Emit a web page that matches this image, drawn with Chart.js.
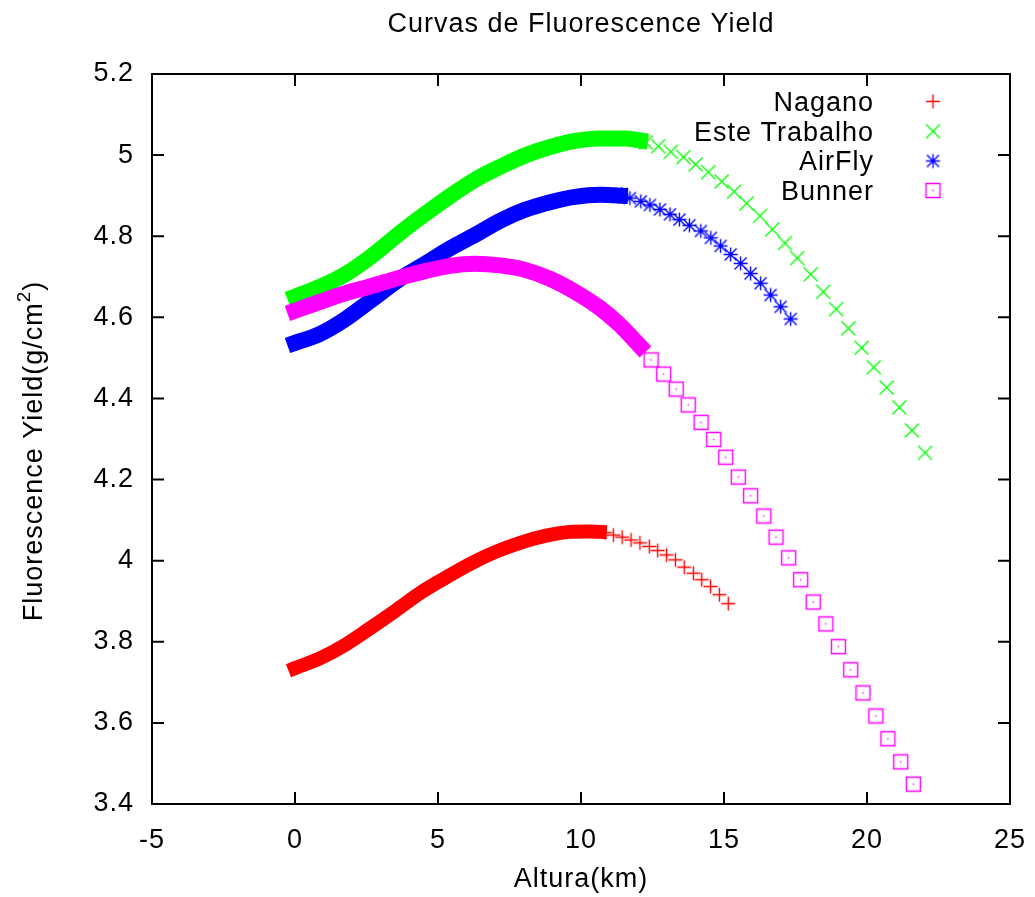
<!DOCTYPE html>
<html>
<head>
<meta charset="utf-8">
<script src="https://cdn.jsdelivr.net/npm/chart.js@4"></script>
<style>
html,body{margin:0;padding:0;background:#fff;}
#wrap{width:1035px;height:897px;}
</style>
</head>
<body>
<div id="wrap"><canvas id="c" width="1035" height="897"></canvas></div>
<script>
// ---- tick labels ----
const xTicks = [-5, 0, 5, 10, 15, 20, 25];
const yTicks = [3.4, 3.6, 3.8, 4.0, 4.2, 4.4, 4.6, 4.8, 5.0, 5.2];

// ---- series names ----
const seriesNames = ['Nagano', 'Este Trabalho', 'AirFly', 'Bunner'];

// ---- Nagano ----
const naganoDenseX = [0, 0.87, 1.75, 2.62, 3.50, 4.37, 5.24, 6.12, 6.99, 7.87, 8.74, 9.62, 10.31, 10.66];
const naganoDenseY = [3.735, 3.759, 3.792, 3.833, 3.876, 3.920, 3.957, 3.992, 4.021, 4.044, 4.061, 4.071, 4.072, 4.071];
const naganoX = [10.84, 11.13, 11.44, 11.75, 12.06, 12.39, 12.68, 12.99, 13.30, 13.61, 13.93, 14.22, 14.53, 14.84, 15.15];
const naganoY = [4.069, 4.063, 4.058, 4.051, 4.044, 4.035, 4.025, 4.014, 4.002, 3.984, 3.969, 3.953, 3.936, 3.916, 3.894];

// ---- Este Trabalho ----
const esteDenseX = [0, 0.87, 1.75, 2.62, 3.67, 4.55, 5.42, 6.29, 7.17, 8.04, 8.92, 9.79, 10.66, 11.54, 12.06];
const esteDenseY = [4.651, 4.675, 4.706, 4.748, 4.808, 4.855, 4.899, 4.939, 4.971, 4.999, 5.020, 5.035, 5.041, 5.041, 5.036];
const esteX = [12.27, 12.70, 13.14, 13.58, 14.01, 14.45, 14.92, 15.35, 15.79, 16.26, 16.69, 17.13, 17.56, 18.03, 18.47, 18.92, 19.35, 19.81, 20.24, 20.69, 21.13, 21.57, 22.03];
const esteY = [5.031, 5.022, 5.008, 4.995, 4.977, 4.958, 4.935, 4.910, 4.881, 4.850, 4.817, 4.783, 4.746, 4.706, 4.663, 4.620, 4.573, 4.525, 4.477, 4.427, 4.378, 4.321, 4.266];

// ---- AirFly ----
const airflyDenseX = [0, 0.87, 1.75, 2.62, 3.67, 4.55, 5.42, 6.29, 7.17, 8.04, 8.92, 9.79, 10.66, 11.36];
const airflyDenseY = [4.537, 4.559, 4.595, 4.640, 4.695, 4.732, 4.770, 4.803, 4.838, 4.865, 4.884, 4.897, 4.902, 4.900];
const airflyX = [11.42, 11.71, 12.09, 12.41, 12.76, 13.11, 13.44, 13.79, 14.19, 14.54, 14.88, 15.23, 15.58, 15.93, 16.28, 16.63, 16.98, 17.33];
const airflyY = [4.904, 4.894, 4.886, 4.877, 4.866, 4.854, 4.841, 4.827, 4.813, 4.796, 4.776, 4.755, 4.733, 4.708, 4.684, 4.655, 4.626, 4.596];

// ---- Bunner ----
const bunnerDenseX = [0, 0.87, 1.75, 2.62, 3.67, 4.55, 5.42, 6.29, 7.17, 8.04, 8.92, 9.79, 10.66, 11.36, 12.06];
const bunnerDenseY = [4.616, 4.638, 4.659, 4.676, 4.698, 4.714, 4.727, 4.732, 4.728, 4.717, 4.695, 4.663, 4.623, 4.581, 4.529];
const bunnerX = [12.45, 12.89, 13.33, 13.75, 14.20, 14.64, 15.06, 15.50, 15.93, 16.39, 16.82, 17.26, 17.68, 18.12, 18.56, 19.00, 19.43, 19.86, 20.31, 20.73, 21.18, 21.62];
const bunnerY = [4.495, 4.460, 4.423, 4.384, 4.341, 4.299, 4.255, 4.206, 4.160, 4.110, 4.058, 4.007, 3.953, 3.898, 3.844, 3.788, 3.731, 3.674, 3.617, 3.561, 3.504, 3.449];

// ---- styles ----
const COLORS = ['#ff0000', '#00ff00', '#0000ff', '#ff00ff'];
const FONT = '"Liberation Sans", Arial, Helvetica, sans-serif';

function makeMarker(kind, color) {
  const s = 19, m = 9.5, h = 7;
  const c = document.createElement('canvas');
  c.width = s; c.height = s;
  const g = c.getContext('2d');
  g.strokeStyle = color; g.fillStyle = color; g.lineWidth = 1.4;
  g.beginPath();
  if (kind === 'plus' || kind === 'star') {
    g.moveTo(m - h, m); g.lineTo(m + h, m);
    g.moveTo(m, m - h); g.lineTo(m, m + h);
  }
  if (kind === 'x' || kind === 'star') {
    const d = kind === 'star' ? 6 : h;
    g.moveTo(m - d, m - d); g.lineTo(m + d, m + d);
    g.moveTo(m - d, m + d); g.lineTo(m + d, m - d);
  }
  if (kind === 'box') {
    g.rect(m - 7, m - 7, 14, 14);
  }
  g.stroke();
  if (kind === 'box') g.fillRect(m - 0.7, m - 0.7, 1.4, 1.4);
  return c;
}
const markers = [
  makeMarker('plus', COLORS[0]),
  makeMarker('x', COLORS[1]),
  makeMarker('star', COLORS[2]),
  makeMarker('box', COLORS[3])
];

function pts(xs, ys) { return xs.map((x, i) => ({ x: x, y: ys[i] })); }

const denseSets = [
  [naganoDenseX, naganoDenseY, 14],
  [esteDenseX, esteDenseY, 16],
  [airflyDenseX, airflyDenseY, 16],
  [bunnerDenseX, bunnerDenseY, 16]
];
const sparseSets = [
  [naganoX, naganoY],
  [esteX, esteY],
  [airflyX, airflyY],
  [bunnerX, bunnerY]
];

const datasets = [];
for (let i = 0; i < 4; i++) {
  datasets.push({
    label: seriesNames[i] + ' (denso)',
    data: pts(denseSets[i][0], denseSets[i][1]),
    showLine: true,
    borderColor: COLORS[i],
    backgroundColor: COLORS[i],
    borderWidth: denseSets[i][2],
    borderCapStyle: 'square',
    borderJoinStyle: 'round',
    cubicInterpolationMode: 'monotone',
    pointRadius: 0,
    fill: false,
    order: 8 - 2 * i
  });
  datasets.push({
    label: seriesNames[i],
    data: pts(sparseSets[i][0], sparseSets[i][1]),
    showLine: false,
    pointStyle: markers[i],
    pointRadius: 6,
    borderColor: COLORS[i],
    backgroundColor: COLORS[i],
    order: 7 - 2 * i
  });
}

const frame = {
  id: 'frame',
  beforeDraw(chart) {
    const ctx = chart.ctx;
    ctx.save();
    ctx.fillStyle = '#fff';
    ctx.fillRect(0, 0, chart.width, chart.height);
    ctx.restore();
    ctx.letterSpacing = '1px';
  },
  beforeDatasetsDraw(chart) {
    const ctx = chart.ctx, a = chart.chartArea;
    const xs = chart.scales.x, ys = chart.scales.y;
    const L = 12;
    ctx.save();
    ctx.strokeStyle = '#000';
    ctx.lineWidth = 2;
    ctx.beginPath();
    xTicks.forEach(v => {
      const p = xs.getPixelForValue(v);
      ctx.moveTo(p, a.bottom); ctx.lineTo(p, a.bottom - L);
      ctx.moveTo(p, a.top); ctx.lineTo(p, a.top + L);
    });
    yTicks.forEach(v => {
      const p = ys.getPixelForValue(v);
      ctx.moveTo(a.left, p); ctx.lineTo(a.left + L, p);
      ctx.moveTo(a.right, p); ctx.lineTo(a.right - L, p);
    });
    ctx.stroke();
    ctx.strokeRect(a.left, a.top, a.right - a.left, a.bottom - a.top);
    ctx.restore();
  },
  afterDraw(chart) {
    const ctx = chart.ctx, a = chart.chartArea;
    const cx = (a.left + a.right) / 2;
    ctx.save();
    ctx.letterSpacing = '1px';
    ctx.fillStyle = '#000';
    ctx.font = '27px ' + FONT;
    ctx.textBaseline = 'alphabetic';
    ctx.textAlign = 'center';
    ctx.fillText('Curvas de Fluorescence Yield', cx, 32);
    ctx.fillText('Altura(km)', cx, 887);

    // y axis title with superscript
    const main = 'Fluorescence Yield(g/cm';
    const sup = '2';
    const close = ')';
    ctx.font = '27px ' + FONT;
    const w1 = ctx.measureText(main).width;
    const w3 = ctx.measureText(close).width;
    ctx.font = '19px ' + FONT;
    const w2 = ctx.measureText(sup).width;
    const total = w1 + w2 + w3;
    ctx.translate(42, 451);
    ctx.rotate(-Math.PI / 2);
    ctx.textAlign = 'left';
    ctx.font = '27px ' + FONT;
    ctx.fillText(main, -total / 2, 0);
    ctx.font = '19px ' + FONT;
    ctx.fillText(sup, -total / 2 + w1, -12);
    ctx.font = '27px ' + FONT;
    ctx.fillText(close, -total / 2 + w1 + w2, 0);
    ctx.restore();

    // legend
    ctx.save();
    ctx.letterSpacing = '1px';
    ctx.fillStyle = '#000';
    ctx.font = '27px ' + FONT;
    ctx.textAlign = 'right';
    ctx.textBaseline = 'alphabetic';
    const base = [110.7, 140.5, 170.3, 199.8];
    for (let i = 0; i < 4; i++) {
      ctx.fillText(seriesNames[i], 874, base[i]);
      const mk = markers[i];
      ctx.drawImage(mk, 933 - mk.width / 2, base[i] - 9.3 - mk.height / 2);
    }
    ctx.restore();
  }
};

Chart.defaults.font.family = FONT;
Chart.defaults.font.size = 27;
Chart.defaults.color = '#000';

new Chart(document.getElementById('c'), {
  type: 'line',
  data: { datasets: datasets },
  options: {
    responsive: false,
    animation: false,
    devicePixelRatio: 1,
    layout: { padding: { left: 0, right: 25, top: 74, bottom: 0 } },
    plugins: { legend: { display: false }, title: { display: false }, tooltip: { enabled: false } },
    scales: {
      x: {
        type: 'linear',
        min: -5, max: 25,
        grid: { display: false, drawTicks: false },
        border: { display: false },
        afterBuildTicks: s => { s.ticks = xTicks.map(v => ({ value: v })); },
        afterFit: s => { s.height = 93; s.paddingLeft = 0; s.paddingRight = 0; },
        ticks: { padding: 20, maxRotation: 0, autoSkip: false, callback: v => String(v) }
      },
      y: {
        type: 'linear',
        min: 3.4, max: 5.2,
        grid: { display: false, drawTicks: false },
        border: { display: false },
        afterBuildTicks: s => { s.ticks = yTicks.map(v => ({ value: v })); },
        afterFit: s => { s.width = 152; s.paddingTop = 0; s.paddingBottom = 0; },
        ticks: { padding: 18, autoSkip: false, callback: v => String(Number(v.toFixed(1))) }
      }
    }
  },
  plugins: [frame]
});
</script>
</body>
</html>
